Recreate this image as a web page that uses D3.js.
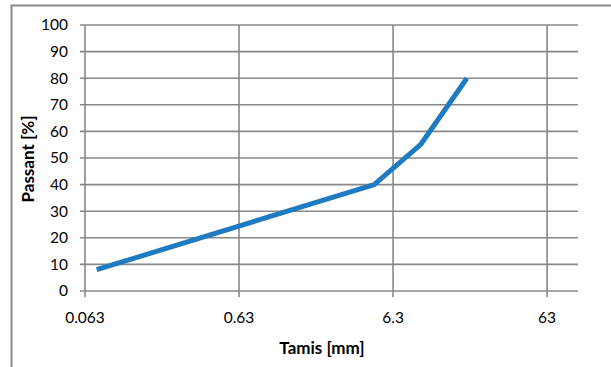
<!DOCTYPE html>
<html><head><meta charset="utf-8">
<script src="https://cdn.jsdelivr.net/npm/d3@7"></script>
<style>body{margin:0;background:#fff;} svg{display:block;}</style>
</head><body>
<script>
const sieves = [0.075, 4.75, 9.5, 19];
const passing = [8, 40, 55, 80];
const xTicks = [0.063, 0.63, 6.3, 63];
const xTickLabels = ["0.063", "0.63", "6.3", "63"];
const yTicks = [0,10,20,30,40,50,60,70,80,90,100];
const xTitle = "Tamis [mm]";
const yTitle = "Passant  [%]";

const W = 611, H = 367;
const L = 85, R = 578, T = 25, B = 291;
const font = "Lato, 'Open Sans', sans-serif";
const grid = "#888888";

const svg = d3.select("body").append("svg").attr("width", W).attr("height", H);
svg.append("rect").attr("x", 0).attr("y", 0).attr("width", W).attr("height", H).attr("fill", "#fff");
// outer chart border (cropped at right/bottom)
svg.append("path").attr("d", `M11.5,${H+5} V5.5 H${W+5}`).attr("fill", "none")
  .attr("stroke", "#8a8a8a").attr("stroke-width", 2);

const x = d3.scaleLog().domain([0.063, 100]).range([L, R]);
const y = d3.scaleLinear().domain([0, 100]).range([B, T]);

// horizontal gridlines
svg.append("g").selectAll("line").data(yTicks).join("line")
  .attr("x1", L - 5).attr("x2", R).attr("y1", d => y(d)).attr("y2", d => y(d))
  .attr("stroke", grid).attr("stroke-width", 1.6);
// vertical gridlines
svg.append("g").selectAll("line").data(xTicks).join("line")
  .attr("x1", d => x(d)).attr("x2", d => x(d)).attr("y1", T).attr("y2", B + 6)
  .attr("stroke", grid).attr("stroke-width", 1.6);

// y tick labels
svg.append("g").selectAll("text").data(yTicks).join("text")
  .attr("x", 68).attr("y", d => y(d)).attr("dy", "0.35em").attr("text-anchor", "end")
  .attr("font-family", font).attr("font-size", 15.5).attr("fill", "#000").text(d => d);
// x tick labels
svg.append("g").selectAll("text").data(xTicks).join("text")
  .attr("x", d => x(d)).attr("y", 318).attr("dy", "0.35em").attr("text-anchor", "middle")
  .attr("font-family", font).attr("font-size", 15.5).attr("fill", "#000")
  .text((d, i) => xTickLabels[i]);

// axis titles
svg.append("text").attr("x", 322).attr("y", 348).attr("dy", "0.35em").attr("text-anchor", "middle")
  .attr("font-family", font).attr("font-size", 17).attr("font-weight", "bold").text(xTitle);
svg.append("text").attr("transform", "translate(28,159) rotate(-90)").attr("dy", "0.35em")
  .attr("text-anchor", "middle").attr("font-family", font).attr("font-size", 17)
  .attr("font-weight", "bold").text(yTitle);

// data line
const data = sieves.map((s, i) => ({s, p: passing[i]}));
svg.append("path").datum(data)
  .attr("d", d3.line().x(d => x(d.s)).y(d => y(d.p)))
  .attr("fill", "none").attr("stroke", "#1f7bc1").attr("stroke-width", 5)
  .attr("stroke-linejoin", "round");
</script>
</body></html>
